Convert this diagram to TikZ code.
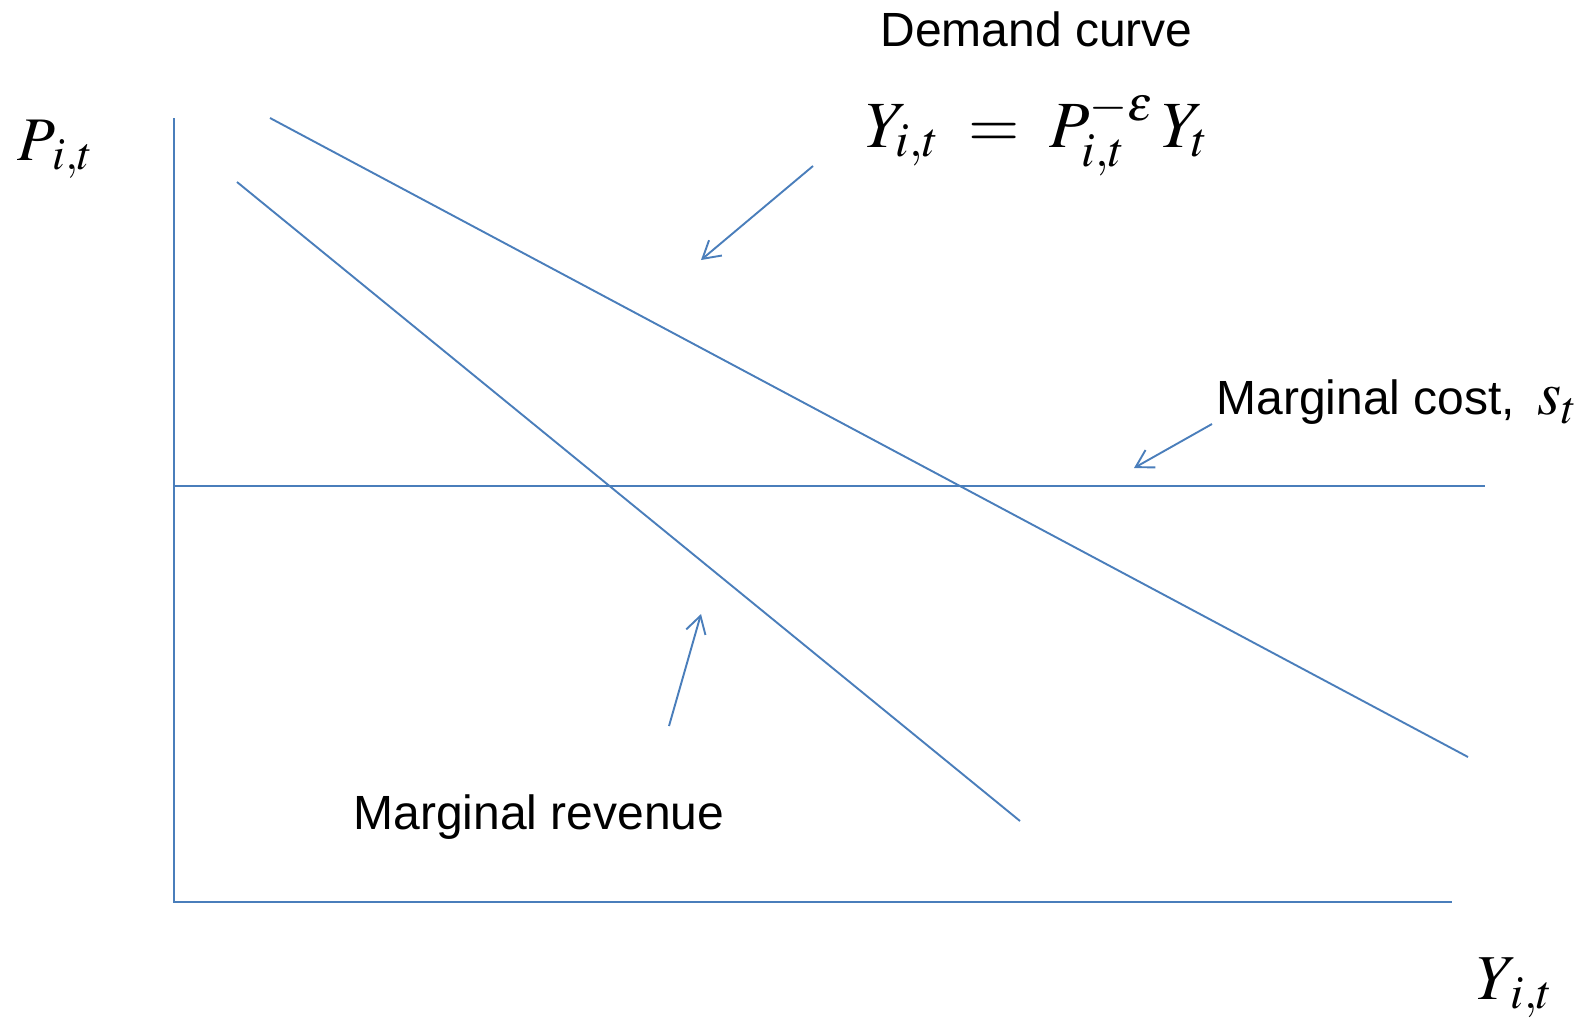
\documentclass[tikz,border=0pt]{standalone}
\usepackage{mathptmx}
\usepackage[no-math]{fontspec}
\setmainfont{Liberation Sans}
\usetikzlibrary{arrows.meta,positioning}
\definecolor{lineblue}{RGB}{74,126,187}

\begin{document}
\begin{tikzpicture}[x=0.5pt, y=-0.5pt,
  curve/.style={draw=lineblue, line width=0.95pt},
  axis/.style={draw=lineblue, line width=1.4pt},
  pointer/.style={draw=lineblue, line width=0.95pt, -{Straight Barb[length=8.5pt,width=10pt]}},
  label/.style={font=\fontsize{24}{28}\selectfont, inner sep=0pt, anchor=base west},
  mathlabel/.style={font=\fontsize{31}{36}\selectfont, inner sep=0pt, anchor=base west}]

\useasboundingbox (0,0) rectangle (1589,1019);

% Achsen
\coordinate (origin) at (174,902);
\coordinate (ytop) at (174,118);
\coordinate (xend) at (1452,902);
\draw[axis] (ytop) -- (origin) -- (xend);

% Kurven
\coordinate (mcL) at (174,486);
\coordinate (mcR) at (1485,486);
\coordinate (dTop) at (270,118);
\coordinate (dBot) at (1468,757);
\coordinate (mrTop) at (237,182);
\coordinate (mrBot) at (1020,821);
\draw[axis] (mcL) -- (mcR);
\draw[curve] (dTop) -- (dBot);
\draw[curve] (mrTop) -- (mrBot);

% Beschriftungen
\node[mathlabel] (pLab) at (17,160) {$P_{\,i,t}$};
\node[mathlabel, font=\fontsize{32}{38}\selectfont] (yLab) at (1476,999) {$Y_{\,i,t}$};
\node[label] (dText) at (880,46) {Demand curve};
\node[mathlabel, font=\fontsize{33}{40}\selectfont, anchor=base] (dEq) at (1037,147)
  {$Y_{i,t}\;=\;P_{i,t}^{-\varepsilon}\,Y_t$};
\node[label] (mcText) at (1216,414) {Marginal cost,};
\node[mathlabel] (mcSym) at (1537,414) {$s_t$};
\node[label] (mrText) at (353,829) {Marginal revenue};

% Pfeile
\coordinate (dFrom) at (813,166);
\coordinate (dTo) at (701,260);
\coordinate (mcFrom) at (1212,424);
\coordinate (mcTo) at (1134,468);
\coordinate (mrFrom) at (669,726);
\coordinate (mrTo) at (701,614);
\draw[pointer] (dFrom) -- (dTo);
\draw[pointer] (mcFrom) -- (mcTo);
\draw[pointer] (mrFrom) -- (mrTo);

\end{tikzpicture}
\end{document}
